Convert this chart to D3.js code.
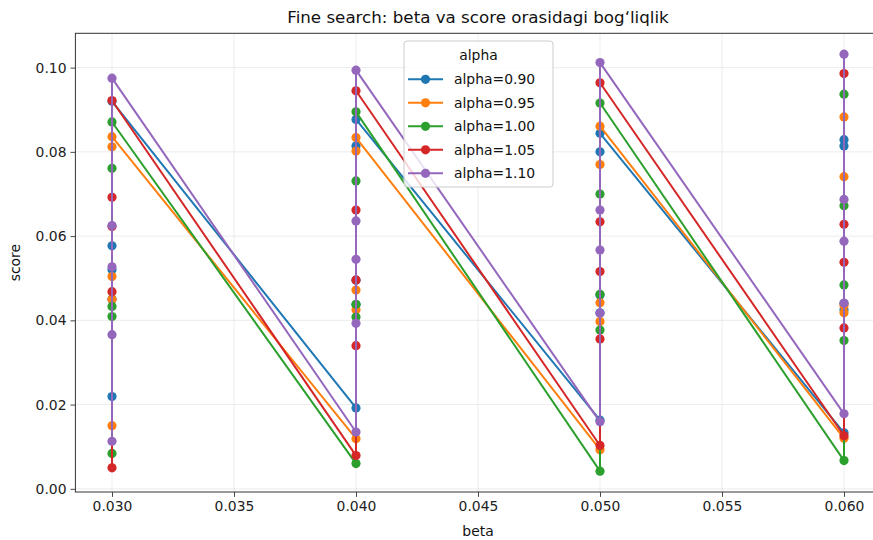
<!DOCTYPE html>
<html>
<head>
<meta charset="utf-8">
<script src="https://cdn.jsdelivr.net/npm/d3@7"></script>
<style>
  body { margin: 0; background: #fff; }
  svg { font-family: "DejaVu Sans", sans-serif; display: block; }
</style>
</head>
<body>
<svg id="chart" width="873" height="540"></svg>
<script>
const betas = [0.03, 0.04, 0.05, 0.06];
const alphaLabels = ["alpha=0.90", "alpha=0.95", "alpha=1.00", "alpha=1.05", "alpha=1.10"];
const colors = ["#1f77b4", "#ff7f0e", "#2ca02c", "#d62728", "#9467bd"];

// scores per beta (5 runs each, low to high)
const scores090 = [[0.0219, 0.0450, 0.0520, 0.0577, 0.0920], [0.0192, 0.0437, 0.0495, 0.0814, 0.0877],
                   [0.0163, 0.0418, 0.0460, 0.0800, 0.0844], [0.0133, 0.0425, 0.0440, 0.0814, 0.0829]];
const scores095 = [[0.0150, 0.0450, 0.0504, 0.0812, 0.0836], [0.0119, 0.0425, 0.0472, 0.0802, 0.0834],
                   [0.0093, 0.0397, 0.0442, 0.0770, 0.0861], [0.0120, 0.0418, 0.0435, 0.0741, 0.0883]];
const scores100 = [[0.0084, 0.0409, 0.0433, 0.0761, 0.0871], [0.0060, 0.0408, 0.0438, 0.0731, 0.0895],
                   [0.0042, 0.0377, 0.0462, 0.0700, 0.0916], [0.0067, 0.0352, 0.0484, 0.0672, 0.0937]];
const scores105 = [[0.0050, 0.0468, 0.0623, 0.0692, 0.0922], [0.0079, 0.0340, 0.0496, 0.0662, 0.0945],
                   [0.0103, 0.0356, 0.0516, 0.0634, 0.0964], [0.0126, 0.0382, 0.0538, 0.0628, 0.0986]];
const scores110 = [[0.0113, 0.0366, 0.0527, 0.0625, 0.0975], [0.0135, 0.0393, 0.0545, 0.0636, 0.0994],
                   [0.0159, 0.0417, 0.0567, 0.0662, 0.1012], [0.0178, 0.0441, 0.0588, 0.0687, 0.1032]];

const xTicks = [0.030, 0.035, 0.040, 0.045, 0.050, 0.055, 0.060];
const yTicks = [0.00, 0.02, 0.04, 0.06, 0.08, 0.10];

const allScores = [scores090, scores095, scores100, scores105, scores110];
const series = allScores.map((groups, i) => ({
    label: alphaLabels[i],
    color: colors[i],
    points: groups.flatMap((g, j) => g.map(v => ({beta: betas[j], score: v})))
}));

const svg = d3.select("#chart");
const plotLeft = 75.4, plotRight = 880.6, plotTop = 33.3, plotBottom = 492;
const markerR = 4.6;

// matplotlib style 5% margins
function padded(ext) {
    const d = (ext[1] - ext[0]) * 0.05;
    return [ext[0] - d, ext[1] + d];
}
const allPts = series.flatMap(s => s.points);
const x = d3.scaleLinear().domain(padded(d3.extent(betas))).range([plotLeft, plotRight]);
const y = d3.scaleLinear().domain(padded(d3.extent(allPts, d => d.score))).range([plotBottom, plotTop]);

svg.append("rect").attr("width", 873).attr("height", 540).attr("fill", "#fff");

// grid
const grid = svg.append("g").attr("stroke", "#b0b0b0").attr("stroke-opacity", 0.3).attr("stroke-width", 0.8);
grid.selectAll("line.gx").data(xTicks).join("line").attr("class", "gx")
    .attr("x1", d => x(d)).attr("x2", d => x(d)).attr("y1", plotTop).attr("y2", plotBottom);
grid.selectAll("line.gy").data(yTicks).join("line").attr("class", "gy")
    .attr("y1", d => y(d)).attr("y2", d => y(d)).attr("x1", plotLeft).attr("x2", plotRight);

// series
const line = d3.line().x(d => x(d.beta)).y(d => y(d.score));
const sg = svg.selectAll("g.series").data(series).join("g").attr("class", "series");
sg.append("path")
    .attr("d", d => line(d.points))
    .attr("fill", "none")
    .attr("stroke", d => d.color)
    .attr("stroke-width", 2)
    .attr("stroke-linejoin", "round");
sg.each(function(s) {
    d3.select(this).selectAll("circle").data(s.points).join("circle")
        .attr("cx", d => x(d.beta))
        .attr("cy", d => y(d.score))
        .attr("r", markerR)
        .attr("fill", s.color);
});

// axes
const xAxis = svg.append("g").attr("transform", `translate(0,${plotBottom})`)
    .call(d3.axisBottom(x).tickValues(xTicks).tickFormat(d3.format(".3f")).tickSizeOuter(0).tickSize(4.9).tickPadding(4));
const yAxis = svg.append("g").attr("transform", `translate(${plotLeft},0)`)
    .call(d3.axisLeft(y).tickValues(yTicks).tickFormat(d3.format(".2f")).tickSizeOuter(0).tickSize(4.9).tickPadding(4));
[xAxis, yAxis].forEach(a => {
    a.select(".domain").remove();
    a.selectAll(".tick line").attr("stroke", "#333").attr("stroke-width", 0.9);
    a.selectAll(".tick text").attr("font-size", "13.9px").attr("fill", "#222")
        .attr("font-family", "DejaVu Sans");
});

// spines
svg.append("rect")
    .attr("x", plotLeft).attr("y", plotTop)
    .attr("width", plotRight - plotLeft).attr("height", plotBottom - plotTop)
    .attr("fill", "none").attr("stroke", "#333").attr("stroke-width", 1);

// labels
svg.append("text").attr("x", (plotLeft + plotRight) / 2).attr("y", 23)
    .attr("text-anchor", "middle").attr("font-size", "16.7px").attr("fill", "#111")
    .text("Fine search: beta va score orasidagi bog‘liqlik");
svg.append("text").attr("x", (plotLeft + plotRight) / 2).attr("y", 536)
    .attr("text-anchor", "middle").attr("font-size", "13.9px").attr("fill", "#111")
    .text("beta");
svg.append("text").attr("transform", `translate(20,${(plotTop + plotBottom) / 2}) rotate(-90)`)
    .attr("text-anchor", "middle").attr("font-size", "13.9px").attr("fill", "#111")
    .text("score");

// legend
const lg = svg.append("g").attr("transform", "translate(404,41)");
lg.append("rect").attr("width", 149).attr("height", 146).attr("rx", 3)
    .attr("fill", "#fff").attr("fill-opacity", 0.8).attr("stroke", "#cccccc");
lg.append("text").attr("x", 74.5).attr("y", 19).attr("text-anchor", "middle")
    .attr("font-size", "13.9px").attr("fill", "#111").text("alpha");
const items = lg.selectAll("g.item").data(series).join("g").attr("class", "item")
    .attr("transform", (d, i) => `translate(0,${38.3 + i * 23.5})`);
items.append("line").attr("x1", 4).attr("x2", 39).attr("stroke", d => d.color).attr("stroke-width", 2);
items.append("circle").attr("cx", 21.5).attr("r", markerR).attr("fill", d => d.color);
items.append("text").attr("x", 50).attr("y", 5).attr("font-size", "13.9px").attr("fill", "#111")
    .text(d => d.label);
</script>
</body>
</html>
